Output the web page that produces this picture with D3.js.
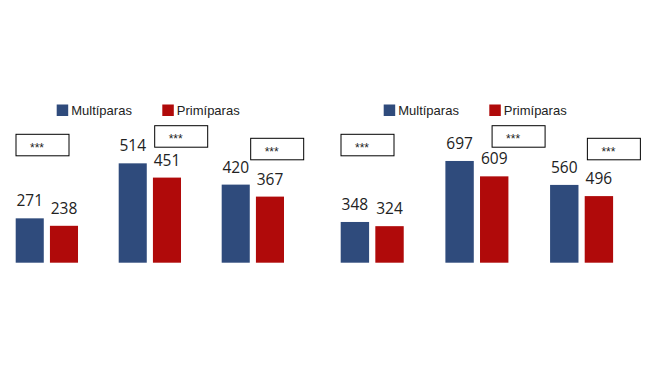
<!DOCTYPE html>
<html>
<head>
<meta charset="utf-8">
<script src="https://cdn.jsdelivr.net/npm/d3@7"></script>
<style>
  body { margin: 0; background: #ffffff; }
  svg { display: block; }
</style>
</head>
<body>
<script>
// data
var categories = ["Grupo 1", "Grupo 2", "Grupo 3"];
var seriesNames = ["Multíparas", "Primíparas"];
var leftMulti = [271, 514, 420];
var leftPrim = [238, 451, 367];
var rightMulti = [348, 697, 560];
var rightPrim = [324, 609, 496];
var signif = ["***", "***", "***"];

var colors = ["#2f4b7c", "#b00a0a"];

var svg = d3.select("body")
    .append("svg")
    .attr("width", 650)
    .attr("height", 366);

function drawPanel(cfg) {
    var g = svg.append("g");
    var x0 = d3.scaleBand()
        .domain(categories)
        .range(cfg.xRange)
        .paddingInner(cfg.padding)
        .paddingOuter(0);
    var x1 = d3.scaleBand()
        .domain(seriesNames)
        .range([0, x0.bandwidth()])
        .paddingInner(0.18);
    var y = d3.scaleLinear()
        .domain(cfg.yDomain)
        .range([262.7, 90]);

    var rows = categories.map(function (c, i) {
        return { cat: c, values: [
            { key: seriesNames[0], v: cfg.multi[i] },
            { key: seriesNames[1], v: cfg.prim[i] }
        ] };
    });

    var grp = g.selectAll("g.cat")
        .data(rows)
        .enter().append("g")
        .attr("class", "cat")
        .attr("transform", function (d) { return "translate(" + x0(d.cat) + ",0)"; });

    grp.selectAll("rect")
        .data(function (d) { return d.values; })
        .enter().append("rect")
        .attr("x", function (d) { return x1(d.key); })
        .attr("y", function (d) { return y(d.v); })
        .attr("width", x1.bandwidth())
        .attr("height", function (d) { return y(cfg.yDomain[0]) - y(d.v); })
        .attr("fill", function (d, i) { return colors[i]; });

    grp.selectAll("text.val")
        .data(function (d) { return d.values; })
        .enter().append("text")
        .attr("class", "val")
        .attr("x", function (d) { return x1(d.key) + x1.bandwidth() / 2; })
        .attr("y", function (d) { return y(d.v) - 12; })
        .attr("text-anchor", "middle")
        .attr("font-family", "Open Sans, sans-serif")
        .attr("font-size", 15.5)
        .attr("fill", "#222222")
        .text(function (d) { return d.v; });

    // significance boxes
    var box = g.selectAll("g.sig")
        .data(categories)
        .enter().append("g")
        .attr("class", "sig")
        .attr("transform", function (c, i) {
            return "translate(" + (x0(c) + cfg.boxDx[i]) + "," + cfg.boxY[i] + ")";
        });
    box.append("rect")
        .attr("width", 53)
        .attr("height", 21.5)
        .attr("fill", "#ffffff")
        .attr("stroke", "#000000")
        .attr("stroke-width", 1);
    box.append("text")
        .attr("x", 14)
        .attr("y", 17.5)
        .attr("font-family", "Liberation Sans, Arial, sans-serif")
        .attr("font-size", 12)
        .attr("fill", "#222222")
        .text(function (c, i) { return signif[i]; });

    // legend
    var leg = g.selectAll("g.leg")
        .data(seriesNames)
        .enter().append("g")
        .attr("class", "leg")
        .attr("transform", function (d, i) { return "translate(" + cfg.legendX[i] + ",104.5)"; });
    leg.append("rect")
        .attr("width", 11.5)
        .attr("height", 11.5)
        .attr("fill", function (d, i) { return colors[i]; });
    leg.append("text")
        .attr("x", 14.5)
        .attr("y", 10.8)
        .attr("font-family", "Liberation Sans, Arial, sans-serif")
        .attr("font-size", 13)
        .attr("fill", "#222222")
        .text(function (d) { return d; });
}

drawPanel({
    xRange: [15.7, 284],
    padding: 0.395,
    yDomain: [75, 838],
    multi: leftMulti,
    prim: leftPrim,
    boxDx: [0.3, 36, 29],
    boxY: [134.3, 125.7, 138.3],
    legendX: [56.7, 162.3]
});

drawPanel({
    xRange: [340.7, 613.1],
    padding: 0.398,
    yDomain: [115, 1103],
    multi: rightMulti,
    prim: rightPrim,
    boxDx: [0.3, 46.7, 37.3],
    boxY: [134.3, 125.7, 138.3],
    legendX: [383.7, 489.3]
});
</script>
</body>
</html>
